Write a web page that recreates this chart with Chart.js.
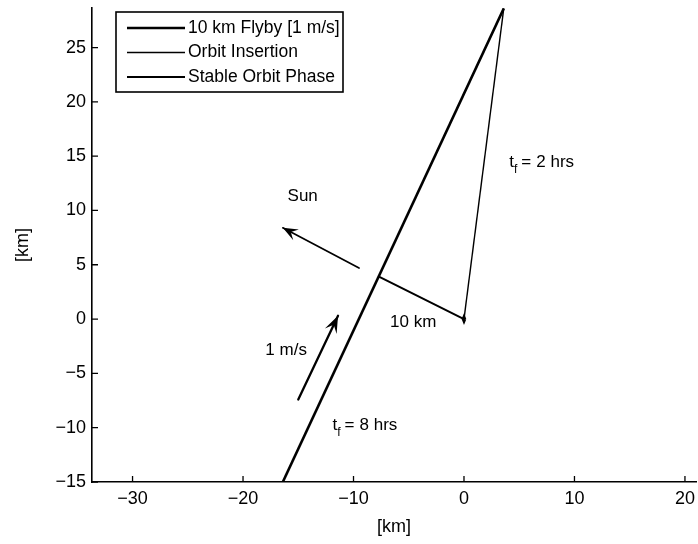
<!DOCTYPE html>
<html>
<head>
<meta charset="utf-8">
<script src="https://cdn.jsdelivr.net/npm/chart.js@4.4.0/dist/chart.umd.min.js"></script>
<style>
  html, body { margin: 0; padding: 0; background: #fff; }
  #wrap { width: 698px; height: 544px; }
</style>
</head>
<body>
<div id="wrap"><canvas id="chart" width="698" height="544"></canvas></div>
<script>
// Trajectory legs, positions in km
const flybyX = [-16.4, 3.6];
const flybyY = [-15, 28.6];
const insertionX = [3.6, 0];
const insertionY = [28.6, 0];
const orbitX = [0.12, 0, -0.12, 0, 0.12];
const orbitY = [0, 0.3, 0, -0.3, 0];

const seriesLabels = ['10 km Flyby [1 m/s]', 'Orbit Insertion', 'Stable Orbit Phase'];

// Axis ticks
const xTicks = [-30, -20, -10, 0, 10, 20];
const yTicks = [-15, -10, -5, 0, 5, 10, 15, 20, 25];

// Annotation segments [x0, y0, x1, y1] in km
const sunArrow = [-9.5, 4.7, -16.4, 8.4];
const speedArrow = [-15.0, -7.4, -11.4, 0.3];
const distLine = [-7.7, 3.9, 0, 0];

const FONT = 'Liberation Sans, Arial, Helvetica, sans-serif';

function toPoints(xs, ys) {
  return xs.map((v, i) => ({ x: v, y: ys[i] }));
}

function arrowHead(ctx, x0, y0, x1, y1, len, half, notch) {
  const a = Math.atan2(y1 - y0, x1 - x0);
  const c = Math.cos(a), s = Math.sin(a);
  ctx.beginPath();
  ctx.moveTo(x1, y1);
  ctx.lineTo(x1 - len * c + half * s, y1 - len * s - half * c);
  ctx.lineTo(x1 - notch * c, y1 - notch * s);
  ctx.lineTo(x1 - len * c - half * s, y1 - len * s + half * c);
  ctx.closePath();
  ctx.fill();
}

// t with subscript f, then "= n hrs"
function drawTf(ctx, rest, x, y) {
  ctx.textAlign = 'left';
  ctx.textBaseline = 'middle';
  ctx.font = '17px ' + FONT;
  ctx.fillText('t', x, y);
  let w = ctx.measureText('t').width;
  ctx.font = '12px ' + FONT;
  ctx.fillText('f', x + w, y + 7);
  w += ctx.measureText('f').width + 4;
  ctx.font = '17px ' + FONT;
  ctx.fillText('=', x + w, y);
  w += ctx.measureText('=').width + 5;
  ctx.fillText(rest, x + w, y);
}

const annotate = {
  id: 'annotate',
  afterDatasetsDraw(chart) {
    const { ctx, scales: { x, y } } = chart;
    const px = v => x.getPixelForValue(v);
    const py = v => y.getPixelForValue(v);
    ctx.save();
    ctx.strokeStyle = '#000';
    ctx.fillStyle = '#000';
    ctx.lineCap = 'round';

    // 10 km closest-approach line
    ctx.lineWidth = 2;
    ctx.beginPath();
    ctx.moveTo(px(distLine[0]), py(distLine[1]));
    ctx.lineTo(px(distLine[2]), py(distLine[3]));
    ctx.stroke();

    // Sun direction
    ctx.lineWidth = 1.7;
    let s = sunArrow.map((v, i) => i % 2 ? py(v) : px(v));
    ctx.beginPath();
    ctx.moveTo(s[0], s[1]);
    ctx.lineTo(s[2], s[3]);
    ctx.stroke();
    arrowHead(ctx, s[0], s[1], s[2], s[3], 15, 6, 9);

    // velocity arrow
    ctx.lineWidth = 2.3;
    s = speedArrow.map((v, i) => i % 2 ? py(v) : px(v));
    ctx.beginPath();
    ctx.moveTo(s[0], s[1]);
    ctx.lineTo(s[2], s[3]);
    ctx.stroke();
    arrowHead(ctx, s[0], s[1], s[2], s[3], 17, 6.5, 10);

    // labels
    ctx.font = '17px ' + FONT;
    ctx.textAlign = 'center';
    ctx.textBaseline = 'middle';
    ctx.fillText('Sun', px(-14.6), py(11.3));
    ctx.fillText('10 km', px(-4.6), py(-0.3));
    ctx.fillText('1 m/s', px(-16.1), py(-2.9));
    drawTf(ctx, '8 hrs', px(-11.9), py(-9.8));
    drawTf(ctx, '2 hrs', px(4.1), py(14.4));
    ctx.restore();
  },
  afterDraw(chart) {
    const { ctx, chartArea, scales: { x, y } } = chart;
    ctx.save();
    ctx.strokeStyle = '#000';
    ctx.lineWidth = 1.3;
    // inward tick marks
    ctx.beginPath();
    xTicks.forEach(v => {
      const p = x.getPixelForValue(v);
      ctx.moveTo(p, chartArea.bottom);
      ctx.lineTo(p, chartArea.bottom - 6);
    });
    yTicks.forEach(v => {
      const p = y.getPixelForValue(v);
      ctx.moveTo(chartArea.left, p);
      ctx.lineTo(chartArea.left + 6, p);
    });
    ctx.stroke();

    // legend box
    const bx = 116, by = 12, bw = 227, bh = 80;
    ctx.fillStyle = '#fff';
    ctx.fillRect(bx, by, bw, bh);
    ctx.lineWidth = 1.6;
    ctx.strokeRect(bx, by, bw, bh);
    ctx.font = '17.5px ' + FONT;
    ctx.textAlign = 'left';
    ctx.textBaseline = 'middle';
    ctx.fillStyle = '#000';
    chart.data.datasets.forEach((ds, i) => {
      const ry = by + 16 + i * 24.5;
      ctx.lineWidth = ds.borderWidth;
      ctx.beginPath();
      ctx.moveTo(bx + 11, ry);
      ctx.lineTo(bx + 69, ry);
      ctx.stroke();
      ctx.fillText(ds.label, bx + 72, ry);
    });
    ctx.restore();
  }
};

const tickFont = { family: FONT, size: 18 };

new Chart(document.getElementById('chart'), {
  type: 'scatter',
  data: {
    datasets: [
      { label: seriesLabels[0], data: toPoints(flybyX, flybyY), showLine: true,
        borderColor: '#000', borderWidth: 2.6, pointRadius: 0 },
      { label: seriesLabels[1], data: toPoints(insertionX, insertionY), showLine: true,
        borderColor: '#000', borderWidth: 1.4, pointRadius: 0 },
      { label: seriesLabels[2], data: toPoints(orbitX, orbitY), showLine: true,
        borderColor: '#000', borderWidth: 2, pointRadius: 0 }
    ]
  },
  options: {
    responsive: false,
    animation: false,
    layout: { padding: { top: 8, right: 2, left: 0, bottom: 0 } },
    plugins: { legend: { display: false }, tooltip: { enabled: false } },
    scales: {
      x: {
        type: 'linear',
        min: -33.67,
        max: 21.0,
        afterBuildTicks: s => { s.ticks = xTicks.map(v => ({ value: v })); },
        afterFit: s => { s.height = 62; s.paddingLeft = 0; s.paddingRight = 0; },
        ticks: {
          font: tickFont, color: '#000', padding: 6, maxRotation: 0,
          callback: v => String(v).replace('-', '\u2212')
        },
        grid: { display: true, drawOnChartArea: false, drawTicks: false },
        border: { display: true, color: '#000', width: 1.6 },
        title: { display: true, text: '[km]', color: '#000', font: tickFont, padding: 6 }
      },
      y: {
        type: 'linear',
        min: -15,
        max: 28.64,
        afterBuildTicks: s => { s.ticks = yTicks.map(v => ({ value: v })); },
        afterFit: s => { s.width = 92; s.paddingTop = 0; s.paddingBottom = 0; },
        ticks: {
          font: tickFont, color: '#000', padding: 6,
          callback: v => String(v).replace('-', '\u2212')
        },
        grid: { display: true, drawOnChartArea: false, drawTicks: false },
        border: { display: true, color: '#000', width: 1.6 },
        title: { display: true, text: '[km]', color: '#000', font: tickFont, padding: 12 }
      }
    }
  },
  plugins: [annotate]
});
</script>
</body>
</html>
